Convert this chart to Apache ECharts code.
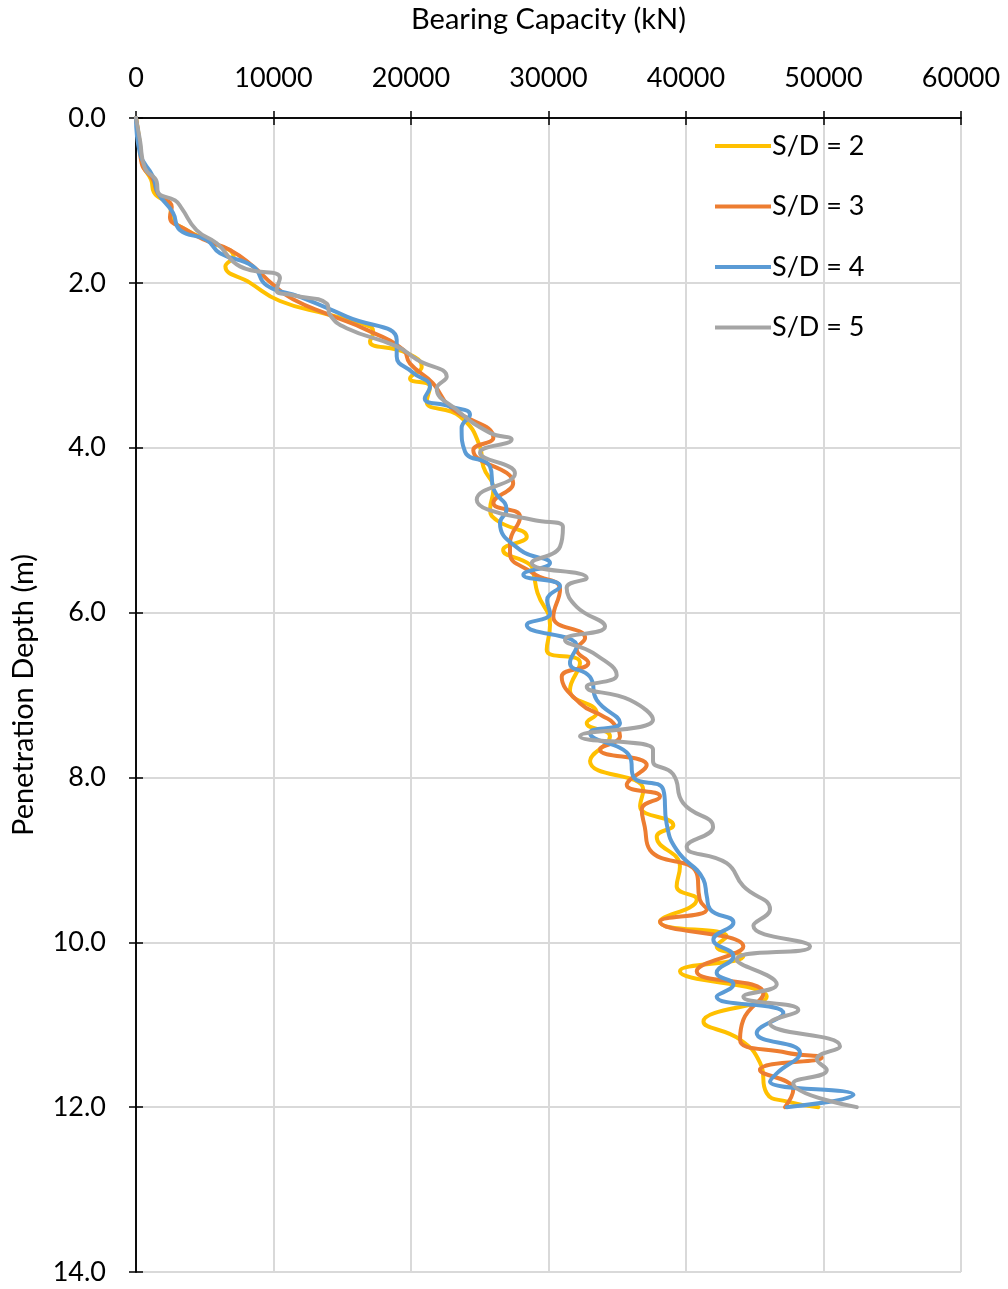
<!DOCTYPE html>
<html>
<head>
<meta charset="utf-8">
<script src="https://cdn.jsdelivr.net/npm/echarts@6/dist/echarts.min.js"></script>
<style>
  html, body { margin: 0; padding: 0; background: #fff; }
  #chart { width: 1008px; height: 1289px; }
</style>
</head>
<body>
<div id="chart"></div>
<script>
// S/D = 2
const depth2 = [0, 0.27, 0.55, 0.75, 0.9, 1.08, 1.2, 1.36, 1.5, 1.68, 1.8, 2.0, 2.22, 2.39, 2.53, 2.6, 2.71, 2.85, 3.02, 3.16, 3.26, 3.44, 3.62, 3.99, 4.23, 4.51, 4.75, 4.88, 5.08, 5.24, 5.42, 5.52, 5.76, 6.15, 6.45, 6.61, 6.94, 7.22, 7.34, 7.5, 7.8, 8.15, 8.35, 8.58, 8.72, 9.08, 9.32, 9.48, 9.75, 9.93, 10.05, 10.17, 10.35, 10.66, 10.96, 11.18, 11.46, 11.83, 11.93, 12.0]
const load2 = [0, 250, 450, 1100, 1300, 2500, 2550, 3700, 5400, 7100, 6500, 8300, 10470, 14110, 17020, 17240, 17020, 19690, 20780, 19930, 21380, 21140, 23560, 25020, 25260, 25990, 25750, 26230, 28420, 26700, 28660, 28900, 29200, 30110, 29870, 32290, 31560, 33500, 32780, 34470, 33020, 36900, 36660, 39080, 37870, 39560, 39320, 40780, 38110, 42960, 42230, 44170, 39560, 45870, 41270, 43930, 45380, 45870, 47300, 49630]

// S/D = 3
const depth3 = [0, 0.3, 0.55, 0.75, 0.92, 1.08, 1.2, 1.36, 1.48, 1.6, 1.8, 2.02, 2.2, 2.39, 2.57, 2.81, 2.98, 3.22, 3.5, 3.88, 4.03, 4.43, 4.67, 4.84, 5.16, 5.28, 5.52, 5.72, 6.05, 6.31, 6.45, 6.61, 6.78, 7.1, 7.26, 7.34, 7.5, 7.66, 7.85, 8.09, 8.23, 8.39, 8.6, 8.88, 9.16, 9.48, 9.6, 9.75, 10.05, 10.35, 10.62, 10.94, 11.18, 11.34, 11.4, 11.55, 11.79, 12.0]
const load3 = [0, 250, 410, 1240, 1600, 2600, 2470, 3690, 5000, 6840, 8510, 9960, 11420, 14100, 16780, 19420, 19930, 21600, 22800, 25990, 24530, 27430, 25990, 27930, 27200, 27200, 28870, 30840, 30350, 32660, 32050, 32900, 30960, 32290, 33990, 34710, 35200, 33750, 37140, 35690, 38110, 36780, 37000, 37380, 40770, 41000, 41510, 38110, 44170, 40780, 45630, 44170, 43930, 47320, 49870, 45380, 47800, 47200]

// S/D = 4
const depth4 = [0, 0.43, 0.71, 0.91, 1.15, 1.36, 1.48, 1.64, 1.8, 2.03, 2.17, 2.41, 2.69, 2.89, 3.09, 3.26, 3.4, 3.5, 3.6, 3.76, 4.05, 4.23, 4.5, 4.75, 4.91, 5.24, 5.4, 5.54, 5.68, 5.85, 6.01, 6.15, 6.41, 6.61, 6.78, 7.06, 7.34, 7.46, 7.75, 7.99, 8.15, 8.56, 8.88, 9.24, 9.44, 9.6, 9.76, 9.97, 10.17, 10.37, 10.51, 10.66, 10.86, 11.1, 11.34, 11.59, 11.69, 11.85, 12.0]
const load4 = [0, 290, 1240, 1600, 2690, 3200, 5140, 6110, 8510, 9500, 11930, 15320, 18960, 18960, 20150, 21380, 21000, 22840, 24290, 23680, 23930, 25750, 26000, 26950, 26470, 27930, 30110, 28170, 30840, 29900, 30110, 28420, 32050, 31560, 33020, 33500, 35200, 33020, 35930, 36170, 38350, 38590, 39320, 41270, 41510, 41750, 43450, 41990, 43450, 42230, 43450, 42230, 47080, 45140, 48290, 46600, 46110, 52180, 47320]

// S/D = 5
const depth5 = [0, 0.27, 0.61, 0.77, 0.9, 1.0, 1.09, 1.36, 1.52, 1.8, 1.94, 2.09, 2.15, 2.25, 2.39, 2.55, 2.77, 2.93, 3.14, 3.28, 3.54, 3.82, 3.9, 4.06, 4.31, 4.63, 4.75, 4.88, 4.96, 5.2, 5.4, 5.58, 5.7, 5.93, 6.17, 6.33, 6.49, 6.76, 6.9, 7.06, 7.3, 7.5, 7.66, 7.8, 7.96, 8.31, 8.6, 8.84, 9.04, 9.32, 9.6, 9.8, 10.05, 10.21, 10.51, 10.66, 10.82, 10.98, 11.26, 11.42, 11.55, 11.71, 12.0]
const load5 = [0, 290, 650, 1500, 1600, 2840, 3300, 4400, 5870, 7560, 10470, 10230, 11420, 13870, 14110, 15320, 18960, 20420, 22600, 21870, 23320, 25750, 27320, 25020, 27560, 24780, 25600, 29000, 31050, 30840, 28780, 32780, 31320, 32050, 34110, 31200, 33240, 34960, 32780, 35930, 37600, 32290, 37600, 37600, 39060, 39790, 41970, 40050, 42960, 44170, 46110, 44900, 49020, 43690, 46600, 44170, 48170, 46110, 51200, 49510, 50240, 47800, 52420]

const seriesNames = ['S/D = 2', 'S/D = 3', 'S/D = 4', 'S/D = 5']
const seriesColors = ['#FFC000', '#ED7D31', '#5B9BD5', '#A5A5A5']
const xTicks = [0, 60000, 10000]
const yTicks = [0, 14, 2]

const font = 'Lato'
const chart = echarts.init(document.getElementById('chart'))

const toPairs = (xs, ys) => xs.map((x, i) => [x, ys[i]])
const allData = [
  toPairs(load2, depth2),
  toPairs(load3, depth3),
  toPairs(load4, depth4),
  toPairs(load5, depth5)
]

const axisLine = { show: true, onZero: false, lineStyle: { color: '#000', width: 1.5 } }

const option = {
  animation: false,
  backgroundColor: '#fff',
  grid: { left: 136, right: 47, top: 118, bottom: 17 },
  legend: {
    orient: 'vertical',
    left: 710,
    top: 126,
    icon: 'rect',
    itemWidth: 56,
    itemHeight: 4,
    itemGap: 30.5,
    textStyle: { fontFamily: font, fontSize: 27, color: '#000', padding: [0, 0, 0, -4], lineHeight: 30 },
    data: seriesNames
  },
  xAxis: [
    {
      type: 'value',
      position: 'top',
      min: xTicks[0], max: xTicks[1], interval: xTicks[2],
      name: 'Bearing Capacity (kN)',
      nameLocation: 'middle',
      nameGap: 84,
      nameTextStyle: { fontFamily: font, fontSize: 29, color: '#000' },
      axisLine: axisLine,
      axisTick: { show: true, inside: false, length: 7, lineStyle: { color: '#000', width: 1.5 } },
      axisLabel: { fontFamily: font, fontSize: 27, color: '#000', margin: 26, formatter: v => String(v) },
      splitLine: { show: true, lineStyle: { color: '#D9D9D9', width: 2 } }
    },
    {
      type: 'value',
      position: 'top',
      min: xTicks[0], max: xTicks[1], interval: xTicks[2],
      axisLine: axisLine,
      axisTick: { show: true, inside: true, length: 7, lineStyle: { color: '#000', width: 1.5 } },
      axisLabel: { show: false },
      splitLine: { show: false }
    }
  ],
  yAxis: [
    {
      type: 'value',
      inverse: true,
      min: yTicks[0], max: yTicks[1], interval: yTicks[2],
      name: 'Penetration Depth (m)',
      nameLocation: 'middle',
      nameGap: 98,
      nameTextStyle: { fontFamily: font, fontSize: 29, color: '#000' },
      axisLine: axisLine,
      axisTick: { show: true, inside: false, length: 7, lineStyle: { color: '#000', width: 1.5 } },
      axisLabel: { fontFamily: font, fontSize: 27, color: '#000', margin: 30, formatter: v => v.toFixed(1) },
      splitLine: { show: true, lineStyle: { color: '#D9D9D9', width: 2 } }
    },
    {
      type: 'value',
      inverse: true,
      position: 'left',
      min: yTicks[0], max: yTicks[1], interval: yTicks[2],
      axisLine: axisLine,
      axisTick: { show: true, inside: true, length: 7, lineStyle: { color: '#000', width: 1.5 } },
      axisLabel: { show: false },
      splitLine: { show: false }
    }
  ],
  series: seriesNames.map((name, i) => ({
    name: name,
    type: 'line',
    xAxisIndex: 0,
    yAxisIndex: 0,
    smooth: 0.5,
    showSymbol: false,
    symbol: 'none',
    color: seriesColors[i],
    lineStyle: { width: 4, color: seriesColors[i], cap: 'round', join: 'round' },
    data: allData[i],
    z: 2 + i
  }))
}

chart.setOption(option)
</script>
</body>
</html>
